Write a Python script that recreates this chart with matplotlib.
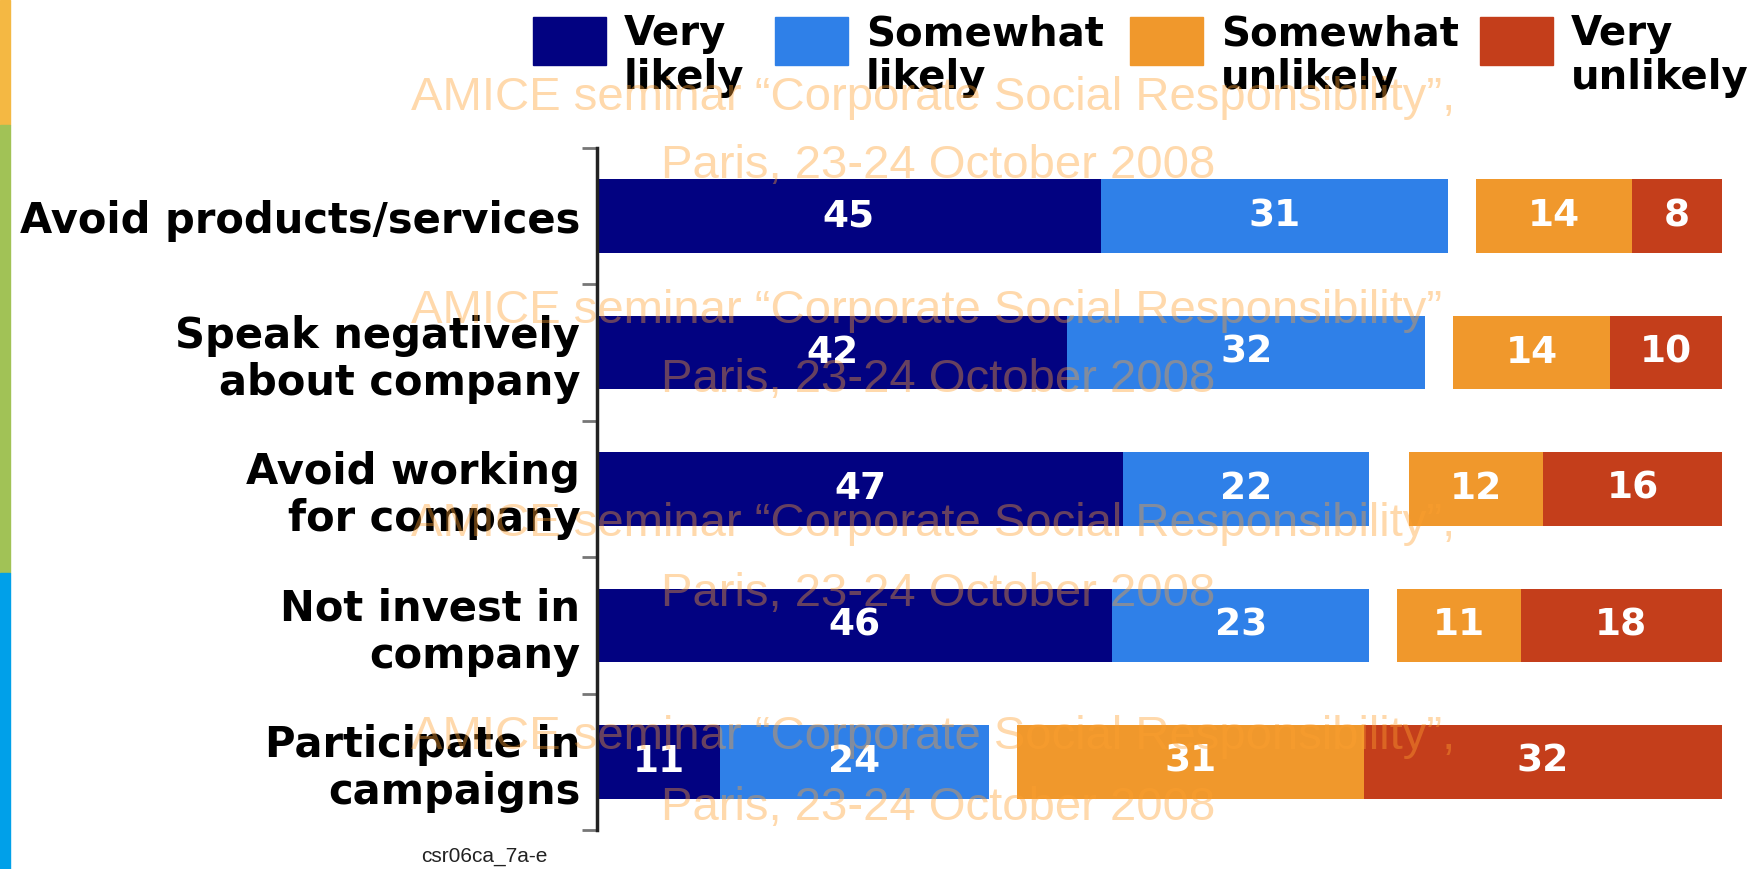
import numpy as np
import matplotlib
matplotlib.use('Agg')
import matplotlib.pyplot as plt
from matplotlib.patches import Rectangle

categories = ['Avoid products/services', 'Speak negatively\nabout company',
              'Avoid working\nfor company', 'Not invest in\ncompany',
              'Participate in\ncampaigns']
very_likely = [45, 42, 47, 46, 11]
somewhat_likely = [31, 32, 22, 23, 24]
somewhat_unlikely = [14, 14, 12, 11, 31]
very_unlikely = [8, 10, 16, 18, 32]
legend_labels = ['Very\nlikely', 'Somewhat\nlikely', 'Somewhat\nunlikely', 'Very\nunlikely']
colors = ['#020281', '#2F80E8', '#F0982C', '#C43E1B']
right_end = 100.5  # the "unlikely" block is right-aligned to this value

W, H = 1753, 869
fig = plt.figure(figsize=(W / 100, H / 100), dpi=100)
ax = fig.add_axes([597 / W, 1 - 830 / H, (1722 - 597) / W, (830 - 148) / H])

y = np.arange(len(categories))
vl, sl = np.array(very_likely), np.array(somewhat_likely)
su, vu = np.array(somewhat_unlikely), np.array(very_unlikely)
unl_start = right_end - su - vu
segments = [(np.zeros(len(y)), vl), (vl, sl), (unl_start, su), (unl_start + su, vu)]
for (left, width), c in zip(segments, colors):
    bars = ax.barh(y, width, left=left, height=0.54, color=c, edgecolor='none')
    ax.bar_label(bars, labels=[str(v) for v in width], label_type='center',
                 color='white', fontsize=27, fontweight='bold')

ax.set_xlim(0, right_end)
ax.set_ylim(len(y) - 0.5, -0.5)
ax.set_xticks([])
for s in ['top', 'right', 'bottom']:
    ax.spines[s].set_visible(False)
ax.spines['left'].set_color('#222222')
ax.spines['left'].set_linewidth(2.5)
ax.set_yticks(y, categories)
ax.set_yticks(np.arange(-0.5, len(y)), minor=True)
ax.tick_params(axis='y', which='major', length=0, pad=12, labelsize=30)
ax.tick_params(axis='y', which='minor', length=11, width=2, color='#777777')
for lab in ax.get_yticklabels():
    lab.set_fontweight('bold')
    lab.set_linespacing(1.15)

# legend drawn by hand so the keys line up with the first text line
key_x = [533, 775, 1130, 1480]
for kx, c, lab in zip(key_x, colors, legend_labels):
    fig.add_artist(Rectangle((kx / W, 1 - 65 / H), 73 / W, 48 / H,
                             transform=fig.transFigure, color=c))
    fig.text((kx + 91) / W, 1 - 14 / H, lab, fontsize=29, fontweight='bold',
             va='top', ha='left', linespacing=1.13)

# coloured strip on the left edge
for y0, y1, c in [(0, 125, '#F4B843'), (125, 573, '#A1C256'), (573, 869, '#00A0E9')]:
    fig.add_artist(Rectangle((0, 1 - y1 / H), 10 / W, (y1 - y0) / H,
                             transform=fig.transFigure, color=c))

# watermark
wm1 = ['AMICE seminar \u201cCorporate Social Responsibility\u201d,',
       'AMICE seminar \u201cCorporate Social Responsibility\u201d',
       'AMICE seminar \u201cCorporate Social Responsibility\u201d,',
       'AMICE seminar \u201cCorporate Social Responsibility\u201d,']
wm2 = 'Paris, 23-24 October 2008'
for i, t in enumerate(wm1):
    fig.text(411 / W, 1 - (110 + 213 * i) / H, t, family='Liberation Sans',
             fontsize=34, color='#FFA030', alpha=0.4, va='baseline')
    fig.text(661 / W, 1 - (178 + 214 * i) / H, wm2, family='Liberation Sans',
             fontsize=34, color='#FFA030', alpha=0.4, va='baseline')

fig.text(484 / W, 1 - 857 / H, 'csr06ca_7a-e', family='Liberation Sans',
         fontsize=15, color='#222222', ha='center', va='center')

fig.savefig('out.png', dpi=100)
